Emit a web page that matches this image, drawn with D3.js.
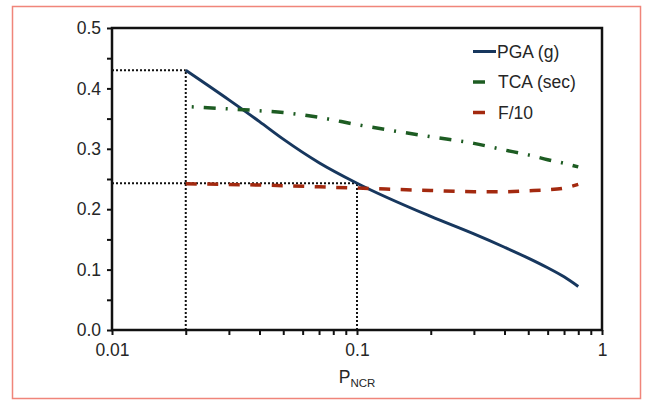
<!DOCTYPE html>
<html><head><meta charset="utf-8">
<script src="https://cdn.jsdelivr.net/npm/d3@7"></script>
<style>
body{margin:0;background:#fff}
svg{display:block}
text{font-family:"Liberation Sans",Arial,sans-serif;fill:#262626}
</style>
</head><body><svg id="c" width="650" height="401"></svg>
<script>
const pValues = [0.02, 0.03, 0.04, 0.05, 0.07, 0.1, 0.2, 0.3, 0.4, 0.5, 0.6, 0.7, 0.8];
const pga = [0.430, 0.381, 0.345, 0.316, 0.277, 0.243, 0.188, 0.159, 0.137, 0.119, 0.103, 0.088, 0.072];
const tca = [0.370, 0.366, 0.363, 0.360, 0.352, 0.340, 0.320, 0.309, 0.298, 0.290, 0.282, 0.276, 0.270];
const f10 = [0.242, 0.241, 0.240, 0.239, 0.237, 0.235, 0.231, 0.229, 0.229, 0.2305, 0.232, 0.235, 0.241];
const seriesNames = ["PGA (g)", "TCA (sec)", "F/10"];
const yTicks = [0, 0.1, 0.2, 0.3, 0.4, 0.5];
const yMinorTicks = [0.05, 0.15, 0.25, 0.35, 0.45];
const xTicks = [0.01, 0.1, 1];
const xMinorTicks = [0.02,0.03,0.04,0.05,0.06,0.07,0.08,0.09,0.2,0.3,0.4,0.5,0.6,0.7,0.8,0.9];
const guides = [[0.02, 0.43], [0.1, 0.243]];

const svg = d3.select("#c");
const L = 112, R = 602, T = 28, B = 330;
const x = d3.scaleLog().domain([0.01, 1]).range([L, R]);
const y = d3.scaleLinear().domain([0, 0.5]).range([B, T]);

// outer red border
svg.append("rect").attr("x", 12.5).attr("y", 6.5).attr("width", 628).attr("height", 392)
  .attr("fill", "none").attr("stroke", "#f0857a").attr("stroke-width", 1.5);

// guide dotted lines
const g = svg.append("g").attr("stroke", "#111").attr("stroke-width", 2)
  .attr("stroke-dasharray", "2,2").attr("fill", "none");
guides.forEach(([gx, gy]) => {
  g.append("line").attr("x1", x(0.01)).attr("x2", x(gx)).attr("y1", y(gy)).attr("y2", y(gy));
  g.append("line").attr("x1", x(gx)).attr("x2", x(gx)).attr("y1", y(0)).attr("y2", y(gy));
});

const colors = ["#17375e", "#1d5c22", "#a3290f"];
const dashes = [null, "12,10,2,10", "11,10.5"];
const offsets = [0, 16, 0];
const series = [pga, tca, f10];
const line = d3.line().x(d => x(d[0])).y(d => y(d[1])).curve(d3.curveMonotoneX);
series.forEach((vals, i) => {
  svg.append("path").datum(pValues.map((p, j) => [p, vals[j]]))
    .attr("d", line).attr("fill", "none").attr("stroke", colors[i])
    .attr("stroke-width", i === 0 ? 3 : 3.5)
    .attr("stroke-dasharray", dashes[i]).attr("stroke-dashoffset", offsets[i]);
});

// axes
const fontSize = 17.5;
const yAx = svg.append("g").attr("transform", `translate(${L},0)`)
  .call(d3.axisLeft(y).tickValues(yTicks.concat(yMinorTicks)).tickSize(5).tickPadding(6)
    .tickFormat(d => yTicks.includes(d) ? d3.format(".1f")(d) : ""));
const xAx = svg.append("g").attr("transform", `translate(0,${B})`)
  .call(d3.axisBottom(x).tickValues(xTicks.concat(xMinorTicks)).tickSize(5).tickPadding(6)
    .tickFormat(d => xTicks.includes(d) ? String(d) : ""));
[yAx, xAx].forEach(a => {
  a.select(".domain").remove();
  a.selectAll("line").attr("stroke", "#111").attr("stroke-width", 2);
  a.selectAll("text").attr("font-size", fontSize).style("fill", "#262626");
});
xAx.selectAll("text").attr("dy", "0.85em");

// frame
svg.append("rect").attr("x", L).attr("y", T).attr("width", R - L).attr("height", B - T)
  .attr("fill", "none").attr("stroke", "#111").attr("stroke-width", 2.5);

// x label
const xl = svg.append("text").attr("x", x(0.1)).attr("y", 383).attr("text-anchor", "middle")
  .attr("font-size", fontSize);
xl.append("tspan").text("P");
xl.append("tspan").attr("font-size", 11.5).attr("dy", 4).text("NCR");

// legend
const lg = svg.append("g");
seriesNames.forEach((name, i) => {
  const ly = 51.5 + i * 30.5;
  lg.append("line").attr("x1", 473).attr("x2", i === 0 ? 496 : 485).attr("y1", ly).attr("y2", ly)
    .attr("stroke", colors[i]).attr("stroke-width", i === 0 ? 3 : 3.5);
  lg.append("text").attr("x", i === 0 ? 497 : 498).attr("y", ly).attr("dy", "0.36em")
    .attr("font-size", fontSize).text(name);
});
</script>
</body></html>
